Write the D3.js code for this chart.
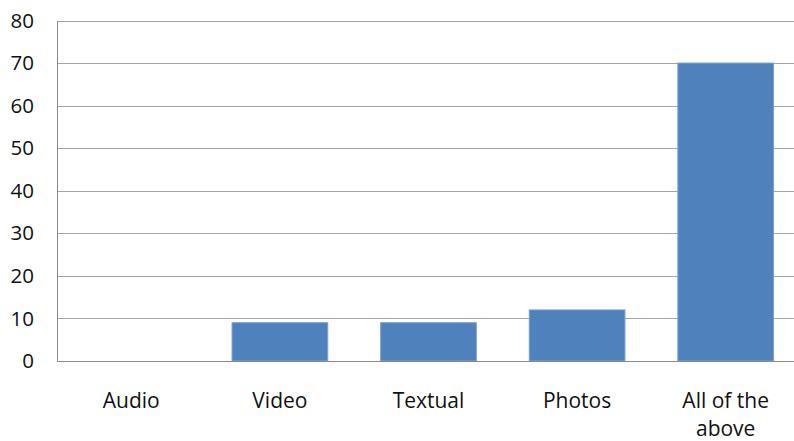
<!DOCTYPE html>
<html><head><meta charset="utf-8">
<script src="https://cdn.jsdelivr.net/npm/d3@7"></script>
<style>body{margin:0;background:#fff;}svg{display:block;font-family:"Open Sans",Lato,sans-serif;}</style>
</head><body><svg id="c" width="794" height="441"></svg>
<script>
const categories = ["Audio", "Video", "Textual", "Photos", "All of the above"];
const labelLines = [["Audio"], ["Video"], ["Textual"], ["Photos"], ["All of the", "above"]];
const values = [0, 9, 9, 12, 70];
const yTicks = [0, 10, 20, 30, 40, 50, 60, 70, 80];

const svg = d3.select("#c");
const x = d3.scaleBand().domain(categories).range([57, 800]).paddingInner(0.356).paddingOuter(0.178);
const y = d3.scaleLinear().domain([0, 80]).range([361, 20.5]);

// gridlines
svg.append("g").selectAll("line").data(yTicks.filter(d => d > 0)).join("line")
  .attr("x1", 57).attr("x2", 794)
  .attr("y1", d => Math.round(y(d)) + 0.5).attr("y2", d => Math.round(y(d)) + 0.5)
  .attr("stroke", "#a6a6a6").attr("stroke-width", 1);

// bars
svg.append("g").selectAll("rect").data(values).join("rect")
  .attr("x", (d, i) => x(categories[i]))
  .attr("y", d => y(d))
  .attr("width", x.bandwidth())
  .attr("height", d => y(0) - y(d))
  .attr("fill", "#4f81bd")
  .attr("stroke", d => d > 0 ? "#7ba0d4" : "none").attr("stroke-width", 1);

// axes lines
svg.append("line").attr("x1", 57.5).attr("x2", 57.5).attr("y1", Math.round(y(80))).attr("y2", 361.5)
  .attr("stroke", "#8c8c8c");
svg.append("line").attr("x1", 57).attr("x2", 794).attr("y1", 361.5).attr("y2", 361.5)
  .attr("stroke", "#8c8c8c");

// y tick labels
svg.append("g").selectAll("text").data(yTicks).join("text")
  .attr("x", 34).attr("y", d => y(d)).attr("dy", "0.35em")
  .attr("text-anchor", "end").attr("font-size", 20.5).attr("fill", "#111")
  .text(d => d);

// x labels
const xl = svg.append("g").selectAll("text").data(categories).join("text")
  .attr("x", d => x(d) + x.bandwidth() / 2).attr("y", 408)
  .attr("text-anchor", "middle").attr("font-size", 21).attr("fill", "#111");
xl.each(function(d, i) {
  d3.select(this).selectAll("tspan").data(labelLines[i]).join("tspan")
    .attr("x", x(d) + x.bandwidth() / 2)
    .attr("dy", (t, j) => j === 0 ? 0 : 28)
    .text(t => t);
});
</script></body></html>
